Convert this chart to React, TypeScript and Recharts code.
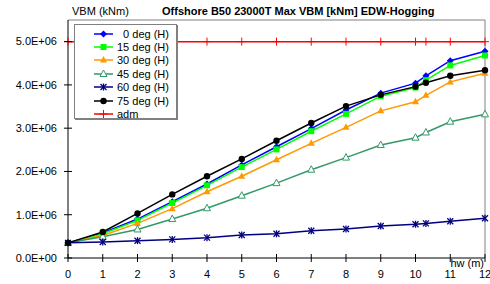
import { LineChart, Line, XAxis, YAxis, Legend, ReferenceLine, Label } from 'recharts';

// wave height (m)
const hw = [0, 1, 2, 3, 4, 5, 6, 7, 8, 9, 10, 10.3, 11, 12];

// VBM (kNm) per heading
const deg0 = [350000, 580000, 900000, 1300000, 1710000, 2150000, 2570000, 2990000, 3420000, 3810000, 4040000, 4210000, 4560000, 4780000];
const deg15 = [350000, 560000, 870000, 1270000, 1680000, 2100000, 2510000, 2930000, 3330000, 3740000, 3940000, 4110000, 4450000, 4680000];
const deg30 = [350000, 520000, 800000, 1140000, 1530000, 1890000, 2270000, 2650000, 3020000, 3400000, 3610000, 3760000, 4070000, 4270000];
const deg45 = [350000, 490000, 660000, 900000, 1150000, 1440000, 1730000, 2040000, 2320000, 2610000, 2780000, 2900000, 3150000, 3320000];
const deg60 = [350000, 370000, 400000, 430000, 470000, 530000, 560000, 630000, 670000, 740000, 780000, 800000, 850000, 920000];
const deg75 = [350000, 600000, 1030000, 1470000, 1890000, 2290000, 2710000, 3120000, 3510000, 3770000, 3960000, 4050000, 4210000, 4340000];
const adm = [5000000, 5000000, 5000000, 5000000, 5000000, 5000000, 5000000, 5000000, 5000000, 5000000, 5000000, 5000000, 5000000, 5000000];

const xTicks = [0, 1, 2, 3, 4, 5, 6, 7, 8, 9, 10, 11, 12];
const yTicks = [0, 1000000, 2000000, 3000000, 4000000, 5000000];
const yMax = 5500000;

const data = hw.map((x, i) => ({
  hw: x,
  d0: deg0[i],
  d15: deg15[i],
  d30: deg30[i],
  d45: deg45[i],
  d60: deg60[i],
  d75: deg75[i],
  adm: adm[i],
}));

type Shape = 'diamond' | 'square' | 'triangle' | 'triangleOpen' | 'star' | 'circle' | 'plus';

const series: { key: string; name: string; color: string; shape: Shape }[] = [
  { key: 'd0', name: '  0 deg (H)', color: '#0000FF', shape: 'diamond' },
  { key: 'd15', name: '15 deg (H)', color: '#00FF00', shape: 'square' },
  { key: 'd30', name: '30 deg (H)', color: '#FF9900', shape: 'triangle' },
  { key: 'd45', name: '45 deg (H)', color: '#339966', shape: 'triangleOpen' },
  { key: 'd60', name: '60 deg (H)', color: '#000080', shape: 'star' },
  { key: 'd75', name: '75 deg (H)', color: '#000000', shape: 'circle' },
  { key: 'adm', name: 'adm', color: '#FF0000', shape: 'plus' },
];

const FONT = '"Liberation Sans", Arial, sans-serif';
const TICK = 4;
const Y_MARGIN = 7;
const X_MARGIN = 8;

function marker(shape: Shape, color: string, cx: number, cy: number, key?: any) {
  switch (shape) {
    case 'diamond':
      return <polygon key={key} points={`${cx},${cy - 3.5} ${cx + 3.5},${cy} ${cx},${cy + 3.5} ${cx - 3.5},${cy}`} fill={color} />;
    case 'square':
      return <rect key={key} x={cx - 3} y={cy - 3} width={6} height={6} fill={color} />;
    case 'triangle':
      return <polygon key={key} points={`${cx},${cy - 4} ${cx + 3.5},${cy + 2.5} ${cx - 3.5},${cy + 2.5}`} fill={color} />;
    case 'triangleOpen':
      return <polygon key={key} points={`${cx},${cy - 4} ${cx + 3.5},${cy + 2.5} ${cx - 3.5},${cy + 2.5}`} fill="#fff" stroke={color} strokeWidth={1} />;
    case 'star':
      return (
        <g key={key} stroke={color} strokeWidth={1.3}>
          <line x1={cx - 3} y1={cy - 3} x2={cx + 3} y2={cy + 3} />
          <line x1={cx - 3} y1={cy + 3} x2={cx + 3} y2={cy - 3} />
          <line x1={cx} y1={cy - 3.5} x2={cx} y2={cy + 3.5} />
        </g>
      );
    case 'circle':
      return <circle key={key} cx={cx} cy={cy} r={3.2} fill={color} />;
    case 'plus':
      return (
        <g key={key} stroke={color} strokeWidth={1}>
          <line x1={cx - 4} y1={cy} x2={cx + 4} y2={cy} />
          <line x1={cx} y1={cy - 4} x2={cx} y2={cy + 4} />
        </g>
      );
  }
}

const fmtSci = (v: number) => {
  if (v === 0) return '0.0E+00';
  const e = Math.floor(Math.log10(Math.abs(v)));
  const m = v / Math.pow(10, e);
  return m.toFixed(1) + 'E' + (e < 0 ? '-' : '+') + String(Math.abs(e)).padStart(2, '0');
};

const YTick = (props: any) => {
  const { x, y, payload } = props;
  const axisX = x + Y_MARGIN + TICK;
  return (
    <g>
      <line x1={axisX - TICK} y1={y} x2={axisX + TICK} y2={y} stroke="#000" />
      <text x={x} y={y} dy="0.35em" textAnchor="end" fontSize={11} fontFamily={FONT} fill="#000">
        {fmtSci(payload.value)}
      </text>
    </g>
  );
};

const XTick = (props: any) => {
  const { x, y, payload } = props;
  const axisY = y - X_MARGIN - TICK;
  return (
    <g>
      <line x1={x} y1={axisY - TICK} x2={x} y2={axisY + TICK} stroke="#000" />
      <text x={x} y={y} dy="0.71em" textAnchor="middle" fontSize={11} fontFamily={FONT} fill="#000">
        {payload.value}
      </text>
    </g>
  );
};

const LegendBox = () => (
  <div
    style={{
      width: 103,
      height: 95,
      border: '1px solid #808080',
      boxShadow: '1px 1px 0 #808080',
      background: '#fff',
      paddingTop: 2,
      boxSizing: 'border-box',
      fontFamily: FONT,
      fontSize: 11,
    }}
  >
    {series.map((s) => (
      <div key={s.key} style={{ display: 'flex', alignItems: 'center', height: 13.4 }}>
        <svg width={22} height={10} style={{ marginLeft: 18, marginRight: 2 }}>
          <line x1={1} y1={5} x2={20} y2={5} stroke={s.color} strokeWidth={1.5} />
          {marker(s.shape, s.color, 10.5, 5)}
        </svg>
        <span style={{ whiteSpace: 'pre', color: '#000' }}>{s.name}</span>
      </div>
    ))}
  </div>
);

export default function App() {
  return (
    <div style={{ position: 'absolute', left: 0, top: 0, width: 490, height: 284, background: '#fff' }}>
      <svg width={490} height={20} style={{ position: 'absolute', left: 0, top: 0 }}>
        <text x={72} y={15} fontSize={11} fontFamily={FONT} fill="#000">VBM (kNm)</text>
        <text x={162} y={15} fontSize={11} fontWeight="bold" fontFamily={FONT} fill="#000">
          Offshore B50 23000T Max VBM [kNm] EDW-Hogging
        </text>
      </svg>
      <LineChart width={490} height={284} data={data} margin={{ top: 20, right: 5, bottom: 0, left: 0 }}>
        <ReferenceLine y={yMax} stroke="#808080" />
        <ReferenceLine x={12} stroke="#808080" />
        <XAxis
          dataKey="hw"
          type="number"
          domain={[0, 12]}
          ticks={xTicks}
          interval={0}
          height={26}
          tickSize={TICK}
          tickMargin={X_MARGIN}
          tickLine={false}
          axisLine={{ stroke: '#000' }}
          tick={<XTick />}
        >
          <Label value="hw (m)" position="insideTopRight" offset={1} fontSize={11} fontFamily={FONT} fill="#000" />
        </XAxis>
        <YAxis
          type="number"
          domain={[0, yMax]}
          ticks={yTicks}
          interval={0}
          width={68}
          tickSize={TICK}
          tickMargin={Y_MARGIN}
          tickLine={false}
          axisLine={{ stroke: '#000' }}
          tick={<YTick />}
        />
        <Legend
          layout="vertical"
          align="center"
          verticalAlign="middle"
          wrapperStyle={{ left: 74, top: 24, width: 105 }}
          content={() => <LegendBox />}
        />
        {series.map((s) => (
          <Line
            key={s.key}
            dataKey={s.key}
            name={s.name}
            type="linear"
            stroke={s.color}
            strokeWidth={1.5}
            isAnimationActive={false}
            dot={(p: any) => marker(s.shape, s.color, p.cx, p.cy, p.index)}
            activeDot={false}
          />
        ))}
      </LineChart>
    </div>
  );
}
